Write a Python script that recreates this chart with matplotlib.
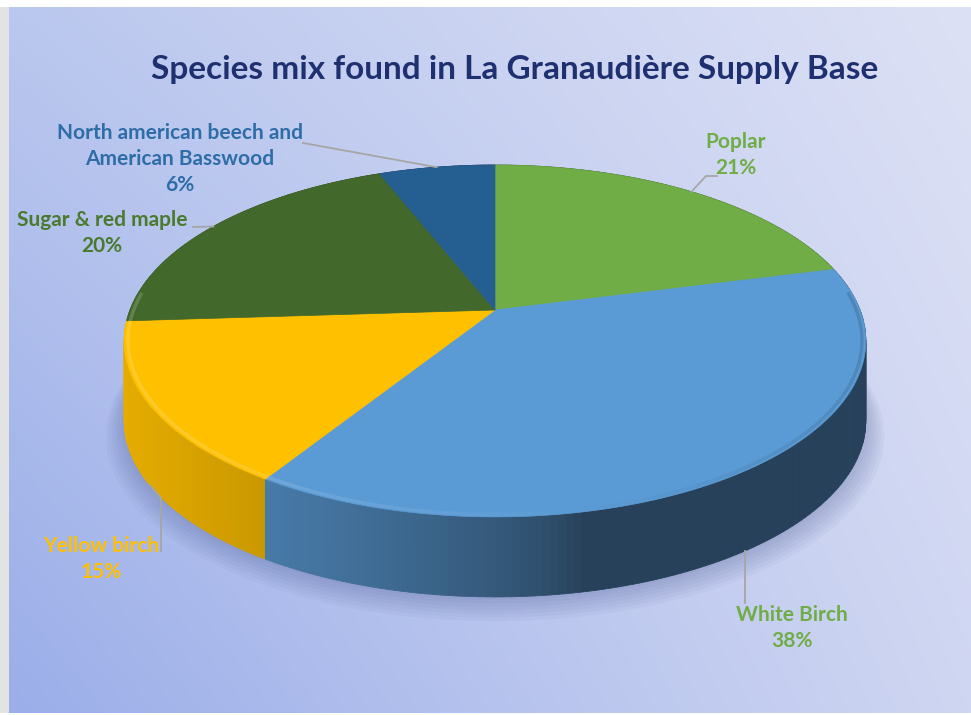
import numpy as np
import matplotlib.pyplot as plt
from matplotlib.collections import PolyCollection
from matplotlib.colors import to_rgb

# data
species = ['Poplar', 'White Birch', 'Yellow birch', 'Sugar & red maple',
           'North american beech and\nAmerican Basswood']
shares = [21, 38, 15, 20, 6]
slice_colors = ['#70AD47', '#5B9BD5', '#FFC000', '#43682B', '#255E91']
label_colors = ['#70AD47', '#70AD47', '#FFC000', '#4A7A2E', '#2F6DA8']
title = 'Species mix found in La Granaudière Supply Base'

# layout (pixels)
W, H = 971, 715
cx, cy = 495, 310           # vertex of the pie
A, B, k = 365, 170.5, 0.176  # perspective of the top disc
depth = 80
label_xy = [(736, 155), (792, 628), (101, 559), (102, 233), (180, 159)]
# leader end near each label
leader_end = [[(706, 176), (717, 176)], [(None, 603)], [(161, 498), (161, 551)],
              [(193, 227)], [(303, 143)]]


def proj(theta, r=1.0, drop=0.0):
    u = r * np.sin(theta)
    v = r * np.cos(theta)
    s = 1 + k * v
    return cx + A * u / s, cy - B * v / s + drop


def shade(theta):
    n = np.array([np.sin(theta), np.cos(theta)])
    L = np.array([-0.98, -0.196])
    d = float(n @ L)
    return 0.42 + 0.48 * max(0.0, d) ** 0.7, d


fig = plt.figure(figsize=(W / 100, H / 100), dpi=100, facecolor='white')
ax = fig.add_axes([0, 0, 1, 1])
ax.set_xlim(0, W)
ax.set_ylim(H, 0)
ax.axis('off')

# background gradient panel
tl, tr = np.array(to_rgb('#BAC7EE')), np.array(to_rgb('#DDE1F5'))
bl, br = np.array(to_rgb('#9BAEE9')), np.array(to_rgb('#CFD6F2'))
gx = np.linspace(0, 1, 200)[None, :, None]
gy = np.linspace(0, 1, 200)[:, None, None]
grad = (1 - gy) * ((1 - gx) * tl + gx * tr) + gy * ((1 - gx) * bl + gx * br)
ax.imshow(grad, extent=[9, W, 713, 7], aspect='auto', zorder=0, interpolation='bilinear')
ax.add_patch(plt.Rectangle((0, 7), 9, 706, color='#E3E3E3', lw=0, zorder=0))

# slice angles (clockwise from 12 o'clock)
fr = np.array(shares) / sum(shares)
edges = np.concatenate([[0], np.cumsum(fr)]) * 2 * np.pi

# soft shadow under the pie
t_all = np.linspace(0, 2 * np.pi, 360)
for i in range(7):
    sx, sy = proj(t_all, r=1.0 + 0.008 * i, drop=depth + 3 + 1.5 * i)
    ax.fill(sx, sy, color='#3A4A85', alpha=0.045, lw=0, zorder=1)

# side walls
quads, qcols, qdepth = [], [], []
for a0, a1, col in zip(edges[:-1], edges[1:], slice_colors):
    base = np.array(to_rgb(col))
    ts = np.linspace(a0, a1, max(3, int(np.degrees(a1 - a0))))
    for t0, t1 in zip(ts[:-1], ts[1:]):
        x0, y0 = proj(t0)
        x1, y1 = proj(t1)
        quads.append([(x0, y0), (x1, y1), (x1, y1 + depth), (x0, y0 + depth)])
        f, _ = shade((t0 + t1) / 2)
        qcols.append(np.clip(base * f, 0, 1))
        qdepth.append(np.cos((t0 + t1) / 2))
order = np.argsort(qdepth)[::-1]
ax.add_collection(PolyCollection([quads[i] for i in order],
                                 facecolors=[qcols[i] for i in order],
                                 edgecolors=[qcols[i] for i in order],
                                 linewidths=0.6, zorder=2))

# top faces
for a0, a1, col in zip(edges[:-1], edges[1:], slice_colors):
    ts = np.linspace(a0, a1, 100)
    px, py = proj(ts)
    ax.fill(np.concatenate([[cx], px]), np.concatenate([[cy], py]),
            color=col, ec=col, lw=0.5, zorder=3)
    # bevel highlight along the rim
    base = np.array(to_rgb(col))
    for t0, t1 in zip(ts[:-1], ts[1:]):
        _, d = shade((t0 + t1) / 2)
        if np.cos((t0 + t1) / 2) > 0.1:
            continue
        if d > 0:
            c = base + (1 - base) * 0.3 * d
            a = 0.6
        else:
            c = base * (1 + 0.4 * d)
            a = 0.35
        xs, ys = proj(np.array([t0, t1]), r=0.99)
        ax.plot(xs, ys, color=c, lw=2.5, alpha=a, solid_capstyle='butt', zorder=4)

# labels and leader lines
for i, (name, p) in enumerate(zip(species, shares)):
    mid = (edges[i] + edges[i + 1]) / 2
    mx, my = proj(mid)
    if np.cos(mid) < 0:
        my += depth
    pts = [(mx, my)]
    for ex, ey in leader_end[i]:
        pts.append((mx if ex is None else ex, ey))
    xs, ys = zip(*pts)
    ax.plot(xs, ys, color='#A6A6A6', lw=1.3, zorder=5)
    ax.text(label_xy[i][0], label_xy[i][1], f'{name}\n{p}%', ha='center', va='center',
            color=label_colors[i], fontsize=15, fontweight='bold', family='Lato',
            linespacing=1.4, zorder=6)

ax.text(515, 70, title, ha='center', va='center', fontsize=24, fontweight='bold',
        family='Lato', color='#1F3070', zorder=6)

fig.savefig('out.png', dpi=100, facecolor='white')
